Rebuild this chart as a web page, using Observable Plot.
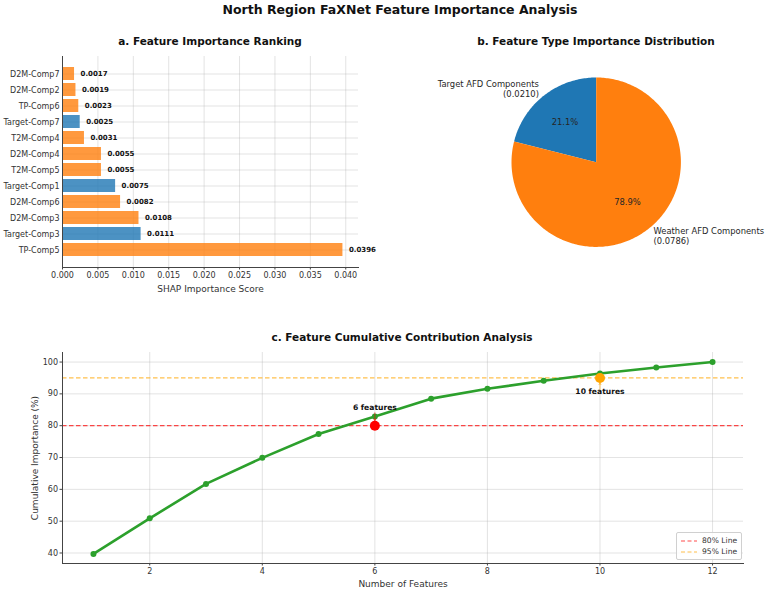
<!DOCTYPE html>
<html>
<head>
<meta charset="utf-8">
<script src="https://cdn.jsdelivr.net/npm/d3@7"></script>
<script src="https://cdn.jsdelivr.net/npm/@observablehq/plot@0.6"></script>
<style>
  html, body { margin: 0; padding: 0; background: #fff; }
  #fig { position: relative; width: 767px; height: 591px; overflow: hidden; font-family: "DejaVu Sans", sans-serif; color: #262626; }
  .title { position: absolute; transform: translate(-50%, -50%); white-space: nowrap; font-weight: bold; color: #111; }
  .panel { position: absolute; }
  .legend { position: absolute; background: rgba(255,255,255,0.85); border: 1px solid #d0d0d0; border-radius: 2px; font-size: 7.6px; color: #333; padding: 2px 4px 2px 4px; }
  .legend div { display: flex; align-items: center; height: 11px; }
  .legend svg { margin-right: 5px; }
</style>
</head>
<body>
<div id="fig">
  <div class="title" style="left:400px; top:9px; font-size:12.5px;">North Region FaXNet Feature Importance Analysis</div>
  <div class="title" style="left:210px; top:41px; font-size:10.5px;">a. Feature Importance Ranking</div>
  <div class="title" style="left:596px; top:41px; font-size:10.5px;">b. Feature Type Importance Distribution</div>
  <div class="title" style="left:402px; top:337px; font-size:10.5px;">c. Feature Cumulative Contribution Analysis</div>
  <div id="pa" class="panel" style="left:0px; top:50px;"></div>
  <div id="pb" class="panel" style="left:380px; top:55px;"></div>
  <div id="pc" class="panel" style="left:0px; top:345px;"></div>
  <div class="legend" style="left:676px; top:532px;">
    <div><svg width="16" height="4"><line x1="0" y1="2" x2="16" y2="2" stroke="red" stroke-opacity="0.7" stroke-width="1.2" stroke-dasharray="4,2.5"/></svg>80% Line</div>
    <div><svg width="16" height="4"><line x1="0" y1="2" x2="16" y2="2" stroke="orange" stroke-opacity="0.7" stroke-width="1.2" stroke-dasharray="4,2.5"/></svg>95% Line</div>
  </div>
</div>
<script>
// ---- Feature importance (SHAP) ----
const features = ["TP-Comp5", "Target-Comp3", "D2M-Comp3", "D2M-Comp6", "Target-Comp1", "T2M-Comp5",
                  "D2M-Comp4", "T2M-Comp4", "Target-Comp7", "TP-Comp6", "D2M-Comp2", "D2M-Comp7"];
const importance = [0.0396, 0.0111, 0.0108, 0.0082, 0.0075, 0.0055, 0.0055, 0.0031, 0.0025, 0.0023, 0.0019, 0.0017];
const importanceTicks = [0, 0.005, 0.010, 0.015, 0.020, 0.025, 0.030, 0.035, 0.040];

// ---- Feature type totals ----
const typeLabels = ["Target AFD Components", "Weather AFD Components"];
const typeValues = [0.0210, 0.0786];
const typeColors = ["#1f77b4", "#ff7f0e"];

// ---- Cumulative contribution ----
const featureCount = [1, 2, 3, 4, 5, 6, 7, 8, 9, 10, 11, 12];
const cumulativePct = [39.7, 50.9, 61.7, 69.9, 77.4, 82.9, 88.5, 91.6, 94.1, 96.4, 98.3, 100.0];
const countTicks = [2, 4, 6, 8, 10, 12];
const pctTicks = [40, 50, 60, 70, 80, 90, 100];
// threshold level, features needed to reach it, annotation text level
const thresholds = [
  {level: 80, n: 6, textLevel: 85, color: "red"},
  {level: 95, n: 10, textLevel: 90, color: "orange"}
];

const font = {fontFamily: "DejaVu Sans, sans-serif", fontSize: "8px", color: "#333", background: "transparent", overflow: "visible"};
const gridColor = "#b0b0b0";
const spine = "#444";

// ---- Panel a: horizontal bars ----
const rows = features.map((f, i) => ({
  feature: f,
  value: importance[i],
  type: f.startsWith("Target") ? typeLabels[0] : typeLabels[1]
}));

const plotA = Plot.plot({
  width: 380, height: 250,
  marginLeft: 62, marginRight: 22, marginTop: 6, marginBottom: 33,
  style: font,
  x: {domain: [0, 0.0418]},
  y: {domain: features.slice().reverse(), paddingInner: 0.2, paddingOuter: 0.59},
  color: {domain: typeLabels, range: typeColors},
  marks: [
    Plot.gridX(importanceTicks, {stroke: gridColor, strokeOpacity: 0.35}),
    Plot.gridY({stroke: gridColor, strokeOpacity: 0.35}),
    Plot.barX(rows, {x: "value", y: "feature", fill: "type", fillOpacity: 0.8}),
    Plot.text(rows, {x: "value", y: "feature", text: d => d.value.toFixed(4), dx: 6, textAnchor: "start",
                     fontWeight: "bold", fontSize: 7, fill: "#111"}),
    Plot.axisX({ticks: importanceTicks, tickFormat: d3.format(".3f"), tickSize: 2.5, tickPadding: 2.5, label: null, stroke: spine}),
    Plot.axisY({tickSize: 0, tickPadding: 3, label: null}),
    Plot.ruleX([0], {stroke: spine, strokeWidth: 1}),
    Plot.frame({anchor: "bottom", stroke: spine, strokeWidth: 1}),
    Plot.text(["SHAP Importance Score"], {frameAnchor: "bottom", lineAnchor: "middle", dy: 22, fontSize: 9, fill: "#333"})
  ]
});
document.getElementById("pa").append(plotA);

// ---- Panel b: pie of feature types (starts at 12 o'clock, counterclockwise) ----
const typeTotal = d3.sum(typeValues);
let startDeg = 90;
const slices = typeValues.map((v, i) => {
  const sweep = v / typeTotal * 360;
  const s = {label: typeLabels[i], value: v, pct: v / typeTotal * 100, start: startDeg, end: startDeg + sweep, mid: startDeg + sweep / 2};
  startDeg += sweep;
  return s;
});
const polar = (deg, r) => [r * Math.cos(deg * Math.PI / 180), -r * Math.sin(deg * Math.PI / 180)];
const wedges = {
  type: "FeatureCollection",
  features: slices.map(s => {
    const ring = [[0, 0]];
    const steps = Math.max(2, Math.ceil(s.end - s.start));
    for (let k = 0; k <= steps; ++k) ring.push(polar(s.start + (s.end - s.start) * k / steps, 1));
    ring.push([0, 0]);
    return {type: "Feature", properties: s, geometry: {type: "Polygon", coordinates: [ring]}};
  })
};
const leftSide = slices.filter(d => polar(d.mid, 1)[0] < 0);
const rightSide = slices.filter(d => polar(d.mid, 1)[0] >= 0);
const outerLabel = (data, anchor) => Plot.text(data, {
  x: d => polar(d.mid, 1.1)[0], y: d => polar(d.mid, 1.1)[1],
  text: d => `${d.label}\n(${d.value.toFixed(4)})`,
  textAnchor: anchor, lineAnchor: "middle", fontSize: 8.4, fill: "#262626", lineHeight: 1.2
});

const plotB = Plot.plot({
  width: 387, height: 240,
  margin: 0,
  style: font,
  projection: {type: "identity", domain: wedges, insetLeft: 131, insetTop: 22, insetRight: 86.6, insetBottom: 48.6},
  color: {domain: typeLabels, range: typeColors},
  marks: [
    Plot.geo(wedges, {fill: d => d.properties.label}),
    outerLabel(leftSide, "end"),
    outerLabel(rightSide, "start"),
    Plot.text(slices, {
      x: d => polar(d.mid, 0.6)[0], y: d => polar(d.mid, 0.6)[1],
      text: d => `${d.pct.toFixed(1)}%`, fontSize: 8.4, fill: "#262626"
    })
  ]
});
document.getElementById("pb").append(plotB);

// ---- Panel c: cumulative contribution ----
const cum = featureCount.map((n, i) => ({n, pct: cumulativePct[i]}));

const plotC = Plot.plot({
  width: 767, height: 246,
  marginLeft: 62, marginRight: 24, marginTop: 7, marginBottom: 28,
  style: font,
  x: {domain: [0.45, 12.55]},
  y: {domain: [36.7, 103.0]},
  marks: [
    Plot.gridX(countTicks, {stroke: gridColor, strokeOpacity: 0.35}),
    Plot.gridY(pctTicks, {stroke: gridColor, strokeOpacity: 0.35}),
    Plot.ruleY(thresholds, {y: "level", stroke: "color", strokeOpacity: 0.7, strokeWidth: 1.2, strokeDasharray: "4.5,2.5"}),
    Plot.line(cum, {x: "n", y: "pct", stroke: "#2ca02c", strokeWidth: 2.6}),
    Plot.dot(cum, {x: "n", y: "pct", fill: "#2ca02c", r: 3}),
    Plot.dot(thresholds, {x: "n", y: "level", fill: "color", r: 5}),
    Plot.arrow(thresholds, {x1: "n", y1: "textLevel", x2: "n", y2: "level", stroke: "color", strokeOpacity: 0.6,
                            strokeWidth: 1, headLength: 3, insetStart: 3, insetEnd: 5}),
    Plot.text(thresholds, {x: "n", y: "textLevel", text: d => `${d.n} features`, fontWeight: "bold", fontSize: 7.6,
                           fill: "#111", lineAnchor: "bottom"}),
    Plot.axisX({ticks: countTicks, tickSize: 2.5, tickPadding: 2.5, label: null, stroke: spine}),
    Plot.axisY({ticks: pctTicks, tickSize: 2.5, tickPadding: 2, label: null, stroke: spine}),
    Plot.frame({anchor: "left", stroke: spine, strokeWidth: 1}),
    Plot.frame({anchor: "bottom", stroke: spine, strokeWidth: 1}),
    Plot.text(["Number of Features"], {frameAnchor: "bottom", lineAnchor: "middle", dy: 21, fontSize: 9, fill: "#333"}),
    Plot.text(["Cumulative Importance (%)"], {frameAnchor: "left", textAnchor: "middle", lineAnchor: "middle",
                                              dx: -27, rotate: -90, fontSize: 9, fill: "#333"})
  ]
});
document.getElementById("pc").append(plotC);
</script>
</body>
</html>
